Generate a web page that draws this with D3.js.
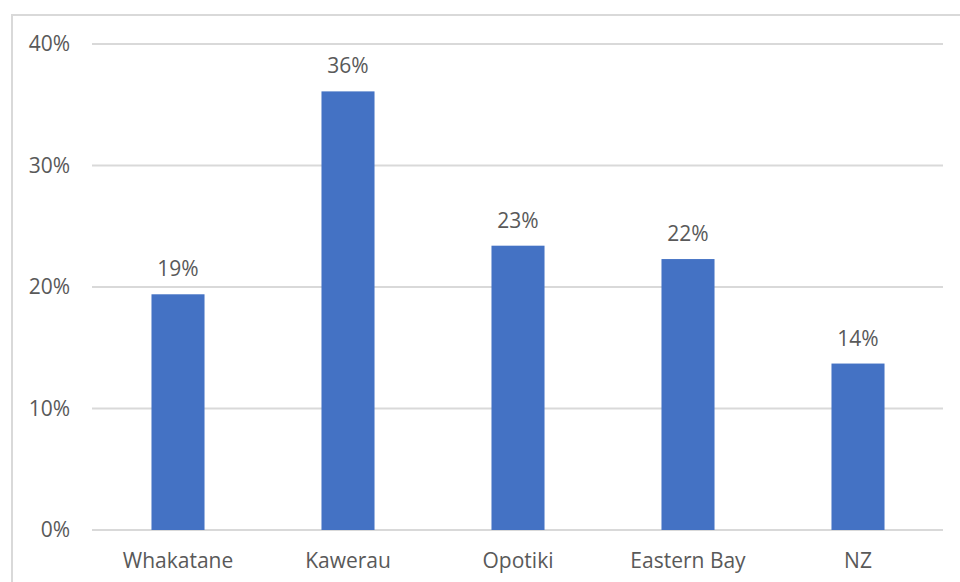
<!DOCTYPE html>
<html><head><meta charset="utf-8">
<script src="https://cdn.jsdelivr.net/npm/d3@7"></script>
<style>body{margin:0;background:#fff}svg{display:block}text{font-family:"Open Sans",Lato,sans-serif;fill:#595959}</style>
</head><body><svg id="c" width="960" height="582"></svg>
<script>
const categories = ["Whakatane","Kawerau","Opotiki","Eastern Bay","NZ"];
const values = [0.194, 0.361, 0.234, 0.223, 0.137];
const labels = ["19%","36%","23%","22%","14%"];
const yTicks = [0,0.1,0.2,0.3,0.4];

const svg = d3.select("#c");
svg.append("rect").attr("x",12).attr("y",15).attr("width",960).attr("height",600)
  .attr("fill","none").attr("stroke","#d9d9d9").attr("stroke-width",2);

const x = d3.scaleBand().domain(categories).range([93,943]).paddingInner(0.688).paddingOuter(0.344);
const y = d3.scaleLinear().domain([0,0.4]).range([530,44]);

svg.append("g").selectAll("line").data(yTicks).join("line")
  .attr("x1",92).attr("x2",943).attr("y1",d=>y(d)).attr("y2",d=>y(d))
  .attr("stroke","#d9d9d9").attr("stroke-width",2);

svg.append("g").selectAll("text").data(yTicks).join("text")
  .attr("x",70).attr("y",d=>y(d)).attr("dy","0.35em").attr("text-anchor","end")
  .attr("font-size",21).text(d3.format(".0%"));

svg.append("g").selectAll("rect").data(values).join("rect")
  .attr("x",(d,i)=>x(categories[i])).attr("width",x.bandwidth())
  .attr("y",d=>y(d)).attr("height",d=>y(0)-y(d)).attr("fill","#4472c4");

svg.append("g").selectAll("text").data(values).join("text")
  .attr("x",(d,i)=>x(categories[i])+x.bandwidth()/2).attr("y",d=>y(d)-18)
  .attr("text-anchor","middle").attr("font-size",21).text((d,i)=>labels[i]);

svg.append("g").selectAll("text").data(categories).join("text")
  .attr("x",d=>x(d)+x.bandwidth()/2).attr("y",568)
  .attr("text-anchor","middle").attr("font-size",21).text(d=>d);
</script></body></html>
